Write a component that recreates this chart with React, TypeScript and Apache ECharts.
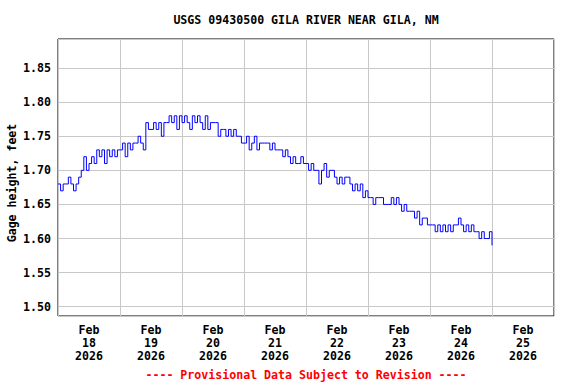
import React, { useEffect, useRef } from "react";
import * as echarts from "echarts";

// Hourly gage height readings (feet), starting at 00:00 of each day
const feb18 = [1.68, 1.67, 1.68, 1.68, 1.69, 1.68, 1.67, 1.68, 1.69, 1.70, 1.72, 1.70, 1.71, 1.72, 1.71, 1.73, 1.72, 1.73, 1.71, 1.73, 1.72, 1.73, 1.72, 1.73];
const feb19 = [1.73, 1.74, 1.72, 1.74, 1.73, 1.74, 1.74, 1.75, 1.74, 1.73, 1.77, 1.76, 1.76, 1.77, 1.76, 1.77, 1.75, 1.77, 1.77, 1.78, 1.77, 1.78, 1.76, 1.78];
const feb20 = [1.77, 1.78, 1.77, 1.76, 1.78, 1.77, 1.78, 1.77, 1.76, 1.78, 1.76, 1.77, 1.77, 1.77, 1.75, 1.76, 1.76, 1.75, 1.76, 1.75, 1.76, 1.75, 1.75, 1.74];
const feb21 = [1.74, 1.75, 1.73, 1.74, 1.75, 1.73, 1.74, 1.74, 1.74, 1.74, 1.73, 1.74, 1.73, 1.73, 1.73, 1.72, 1.73, 1.72, 1.71, 1.72, 1.71, 1.71, 1.72, 1.71];
const feb22 = [1.71, 1.70, 1.71, 1.70, 1.70, 1.68, 1.70, 1.71, 1.69, 1.70, 1.70, 1.69, 1.68, 1.69, 1.68, 1.69, 1.69, 1.68, 1.67, 1.68, 1.67, 1.68, 1.66, 1.67];
const feb23 = [1.66, 1.66, 1.65, 1.66, 1.66, 1.66, 1.65, 1.65, 1.65, 1.66, 1.65, 1.66, 1.65, 1.64, 1.65, 1.64, 1.64, 1.64, 1.63, 1.64, 1.62, 1.63, 1.63, 1.62];
const feb24 = [1.62, 1.62, 1.61, 1.62, 1.61, 1.62, 1.61, 1.62, 1.61, 1.62, 1.62, 1.63, 1.62, 1.61, 1.62, 1.61, 1.62, 1.61, 1.61, 1.60, 1.61, 1.60, 1.60, 1.61];
const feb25 = [1.59];

const dayLabels = ["Feb\n18\n2026", "Feb\n19\n2026", "Feb\n20\n2026", "Feb\n21\n2026", "Feb\n22\n2026", "Feb\n23\n2026", "Feb\n24\n2026", "Feb\n25\n2026"];
const yTicks = [1.5, 1.55, 1.6, 1.65, 1.7, 1.75, 1.8, 1.85];

const titleText = "USGS 09430500 GILA RIVER NEAR GILA, NM";
const yName = "Gage height, feet";
const footerText = "---- Provisional Data Subject to Revision ----";

const DAY = 86400000;
const HOUR = 3600000;
const START = Date.UTC(2026, 1, 18);
const END = Date.UTC(2026, 1, 26);

const FONT = "'DejaVu Sans Mono', 'Liberation Mono', monospace";

export default function App() {
  const ref = useRef<HTMLDivElement>(null);
  useEffect(() => {
    if (!ref.current) return;
    const chart = echarts.init(ref.current, null, { renderer: "svg" });
    const days = [feb18, feb19, feb20, feb21, feb22, feb23, feb24, feb25];
    const data: [number, number][] = [];
    days.forEach((arr, d) => {
      arr.forEach((v, h) => data.push([START + d * DAY + h * HOUR, v]));
    });
    const textStyle = { fontFamily: FONT, fontWeight: "bold" as const, fontSize: 11.6, color: "#000" };
    chart.setOption({
      animation: false,
      backgroundColor: "#fff",
      grid: { left: 58, top: 39, width: 496, height: 277, show: true, borderColor: "#000", borderWidth: 1, backgroundColor: "transparent", containLabel: false },
      xAxis: [
        {
          type: "value",
          min: START,
          max: END,
          interval: DAY,
          axisLine: { show: false },
          axisTick: { show: false },
          axisLabel: { show: false },
          splitLine: { show: true, lineStyle: { color: "#c8c8c8", width: 1 } },
        },
        {
          type: "category",
          data: dayLabels,
          boundaryGap: true,
          position: "bottom",
          axisLine: { show: false },
          axisTick: { show: false },
          splitLine: { show: false },
          axisLabel: { ...textStyle, lineHeight: 12.7, margin: 8, interval: 0 },
        },
      ],
      yAxis: {
        type: "value",
        min: 1.4864,
        max: 1.8926,
        splitNumber: 8,
        minInterval: 0.05,
        maxInterval: 0.05,
        axisLine: { show: false },
        axisTick: { show: false },
        axisLabel: {
          ...textStyle,
          margin: 7,
          showMinLabel: false,
          showMaxLabel: false,
          formatter: (v: number) => {
            const t = yTicks.find((x) => Math.abs(x - v) < 1e-6);
            return t === undefined ? "" : t.toFixed(2);
          },
        },
        splitLine: { show: true, lineStyle: { color: "#c8c8c8", width: 1 } },
      },
      graphic: [
        {
          type: "text",
          x: 306,
          y: 20,
          style: { text: titleText, fontFamily: FONT, fontWeight: "bold", fontSize: 11.6, fill: "#000", align: "center", verticalAlign: "middle", textAlign: "center", textVerticalAlign: "middle" },
        },
        {
          type: "text",
          x: 12,
          y: 183,
          rotation: Math.PI / 2,
          style: { text: yName, fontFamily: FONT, fontWeight: "bold", fontSize: 11.6, fill: "#000", align: "center", verticalAlign: "middle", textAlign: "center", textVerticalAlign: "middle" },
        },
        {
          type: "text",
          x: 306,
          y: 374.5,
          style: { text: footerText, fontFamily: FONT, fontWeight: "bold", fontSize: 11.6, fill: "#ff0000", align: "center", verticalAlign: "middle", textAlign: "center", textVerticalAlign: "middle" },
        },
      ],
      series: [
        {
          type: "line",
          xAxisIndex: 0,
          yAxisIndex: 0,
          data,
          step: "end",
          showSymbol: false,
          symbol: "none",
          lineStyle: { color: "#0000ff", width: 1 },
          emphasis: { disabled: true },
        },
      ],
    });
    return () => chart.dispose();
  }, []);
  return <div ref={ref} style={{ position: "absolute", left: 0, top: 0, width: 576, height: 384, background: "#fff" }} />;
}
